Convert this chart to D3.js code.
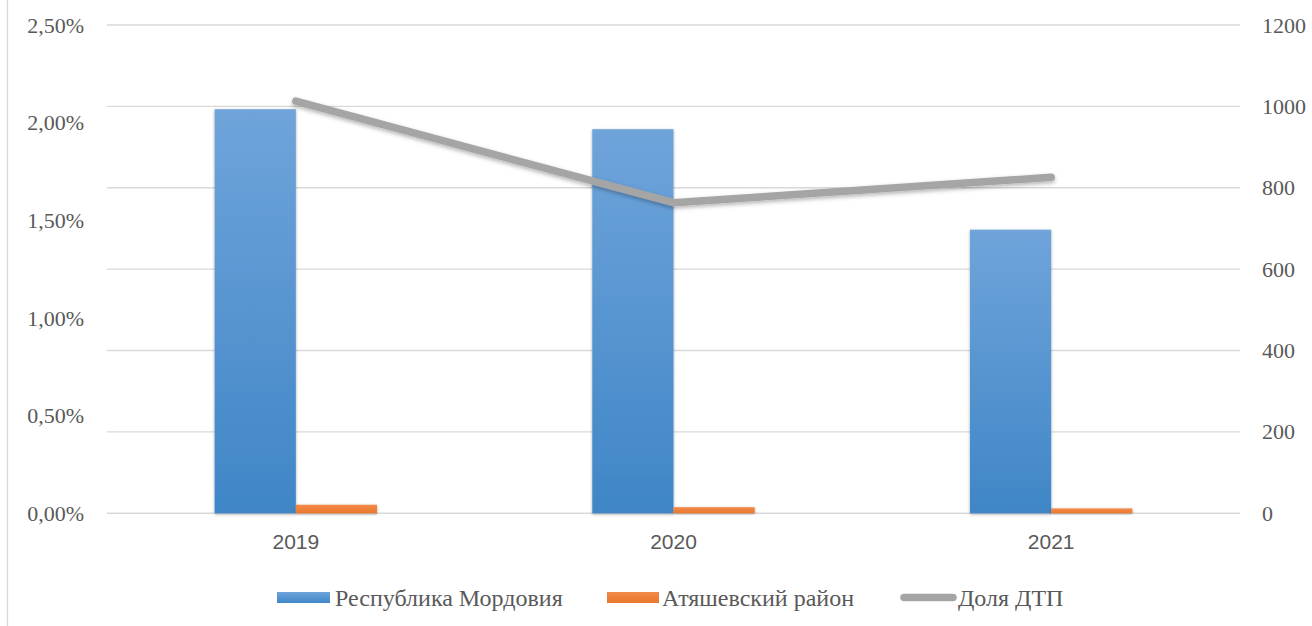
<!DOCTYPE html>
<html lang="ru">
<head>
<meta charset="utf-8">
<title>ДТП</title>
<script src="https://cdn.jsdelivr.net/npm/d3@7"></script>
<style>
  body { margin: 0; background: #fff; }
  svg { display: block; }
</style>
</head>
<body>
<div id="chart"></div>
<script>
// data
var years = ["2019", "2020", "2021"];
var mordovia = [993, 944, 697];      // Республика Мордовия (right axis)
var atyashevo = [21, 15, 12];        // Атяшевский район (right axis)
var share = [2.11, 1.59, 1.72];      // Доля ДТП, % (left axis)
var leftTicks = [0, 0.5, 1, 1.5, 2, 2.5];
var rightTicks = [0, 200, 400, 600, 800, 1000, 1200];
var seriesNames = ["Республика Мордовия", "Атяшевский район", "Доля ДТП"];

var W = 1312, H = 626;
var pLeft = 107, pRight = 1240, pTop = 25, pBottom = 513.3;
var serif = "'Liberation Serif', 'Times New Roman', serif";

var svg = d3.select("#chart").append("svg")
    .attr("width", W).attr("height", H);

var defs = svg.append("defs");
var gb = defs.append("linearGradient").attr("id", "gBlue")
    .attr("x1", 0).attr("y1", 0).attr("x2", 0).attr("y2", 1);
gb.append("stop").attr("offset", "0%").attr("stop-color", "#6fa4da");
gb.append("stop").attr("offset", "100%").attr("stop-color", "#3f86c7");
var go = defs.append("linearGradient").attr("id", "gOrange")
    .attr("x1", 0).attr("y1", 0).attr("x2", 0).attr("y2", 1);
go.append("stop").attr("offset", "0%").attr("stop-color", "#f38a48");
go.append("stop").attr("offset", "100%").attr("stop-color", "#e8772c");
var sh = defs.append("filter").attr("id", "shadow")
    .attr("x", "-20%").attr("y", "-20%").attr("width", "140%").attr("height", "140%");
sh.append("feDropShadow").attr("dx", 0).attr("dy", 1).attr("stdDeviation", 1.6)
    .attr("flood-color", "#000").attr("flood-opacity", 0.35);
var shl = defs.append("filter").attr("id", "shadowLine")
    .attr("x", "-10%").attr("y", "-50%").attr("width", "120%").attr("height", "200%");
shl.append("feDropShadow").attr("dx", 0).attr("dy", 2).attr("stdDeviation", 2)
    .attr("flood-color", "#000").attr("flood-opacity", 0.3);

// chart border on the left
svg.append("line").attr("x1", 7.5).attr("x2", 7.5).attr("y1", 0).attr("y2", H)
    .attr("stroke", "#d9d9d9").attr("stroke-width", 1.3);

var x = d3.scaleBand().domain(years).range([pLeft, pRight]).padding(0);
var groupW = x.bandwidth() * 0.43;
var xs = d3.scaleBand().domain([0, 1]).range([0, groupW]).padding(0);
var yR = d3.scaleLinear().domain([0, 1200]).range([pBottom, pTop]);
var yL = d3.scaleLinear().domain([0, 2.5]).range([pBottom, pTop]);

// gridlines (right axis)
svg.append("g").selectAll("line").data(rightTicks).enter().append("line")
    .attr("x1", pLeft).attr("x2", pRight)
    .attr("y1", function(d){ return yR(d); })
    .attr("y2", function(d){ return yR(d); })
    .attr("stroke", "#d9d9d9").attr("stroke-width", 1.4);

// bars
function bx(i, k){ return x(years[i]) + x.bandwidth()/2 - groupW/2 + xs(k); }
svg.append("g").selectAll("rect").data(mordovia).enter().append("rect")
    .attr("x", function(d,i){ return bx(i, 0); })
    .attr("y", function(d){ return yR(d); })
    .attr("width", xs.bandwidth())
    .attr("height", function(d){ return yR(0) - yR(d); })
    .attr("fill", "url(#gBlue)").attr("filter", "url(#shadow)");
svg.append("g").selectAll("rect").data(atyashevo).enter().append("rect")
    .attr("x", function(d,i){ return bx(i, 1); })
    .attr("y", function(d){ return yR(d); })
    .attr("width", xs.bandwidth())
    .attr("height", function(d){ return yR(0) - yR(d); })
    .attr("fill", "url(#gOrange)").attr("filter", "url(#shadow)");

// line
var line = d3.line()
    .x(function(d,i){ return x(years[i]) + x.bandwidth()/2; })
    .y(function(d){ return yL(d); });
svg.append("path").datum(share)
    .attr("d", line)
    .attr("fill", "none").attr("stroke", "#a5a5a5").attr("stroke-width", 7.5)
    .attr("stroke-linecap", "round").attr("stroke-linejoin", "round")
    .attr("filter", "url(#shadowLine)");

// left axis
var axL = d3.axisLeft(yL).tickValues(leftTicks).tickSize(0).tickPadding(0)
    .tickFormat(function(d){ return d3.format(".2f")(d).replace(".", ",") + "%"; });
var gL = svg.append("g").attr("transform", "translate(84,0)").call(axL)
    .attr("font-family", serif).attr("font-size", 22);
gL.select(".domain").remove();
gL.selectAll("text").style("font-family", serif).attr("fill", "#595959");

// right axis
var axR = d3.axisRight(yR).tickValues(rightTicks).tickSize(0).tickPadding(0)
    .tickFormat(d3.format("d"));
var gR = svg.append("g").attr("transform", "translate(1262,0)").call(axR)
    .attr("font-family", serif).attr("font-size", 22);
gR.select(".domain").remove();
gR.selectAll("text").style("font-family", serif).attr("fill", "#595959");

// x axis
var axX = d3.axisBottom(x).tickSize(0).tickPadding(0);
var gX = svg.append("g").attr("transform", "translate(0,534)").call(axX)
    .attr("font-family", "'Liberation Sans', Arial, sans-serif").attr("font-size", 21);
gX.select(".domain").remove();
gX.selectAll("text").attr("fill", "#595959");

// legend
var legX = [277, 607, 900];
var leg = svg.append("g");
leg.append("rect").attr("x", legX[0]).attr("y", 592).attr("width", 53).attr("height", 11)
    .attr("fill", "url(#gBlue)");
leg.append("rect").attr("x", legX[1]).attr("y", 592).attr("width", 52).attr("height", 11)
    .attr("fill", "url(#gOrange)");
leg.append("line").attr("x1", legX[2] + 4).attr("x2", legX[2] + 53)
    .attr("y1", 597.5).attr("y2", 597.5)
    .attr("stroke", "#a5a5a5").attr("stroke-width", 7.5).attr("stroke-linecap", "round");
leg.selectAll("text").data(seriesNames).enter().append("text")
    .attr("x", function(d,i){ return legX[i] + [58, 55, 58][i]; })
    .attr("y", 598).attr("dy", "0.35em")
    .attr("font-family", serif)
    .attr("font-size", 24).attr("fill", "#595959")
    .text(function(d){ return d; });
</script>
</body>
</html>
